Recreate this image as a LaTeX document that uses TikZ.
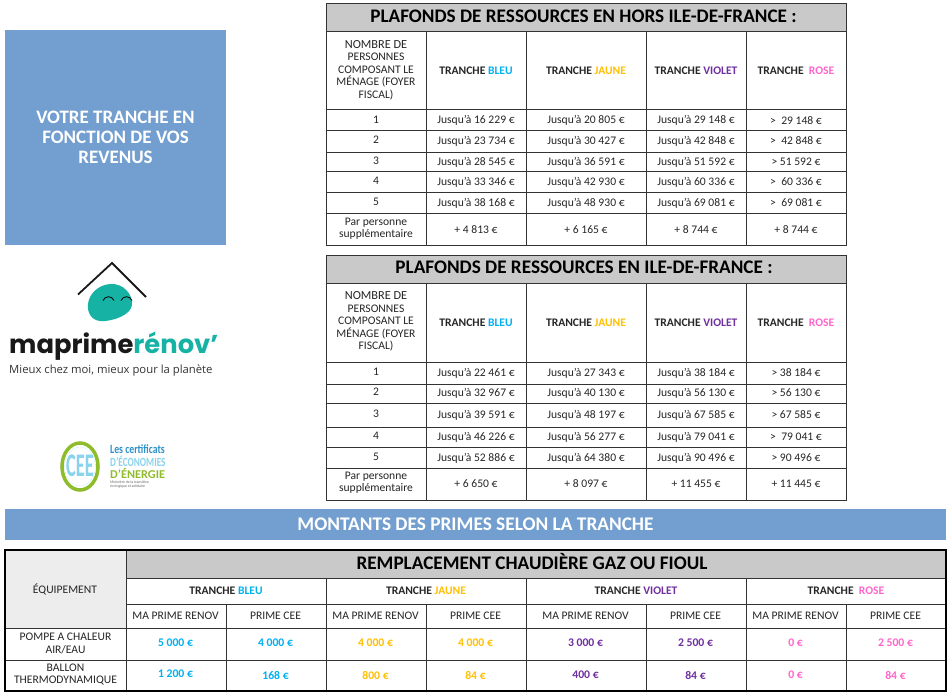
\documentclass[tikz,border=0pt]{standalone}
\usepackage{fontspec}
\setmainfont{Carlito}
\newfontfamily\logofont{Poppins}
\newfontfamily\tagfont{Open Sans}
\usetikzlibrary{calc}
\definecolor{cbl}{HTML}{00B0F0}
\definecolor{cja}{HTML}{FFC000}
\definecolor{cvi}{HTML}{7030A0}
\definecolor{cro}{HTML}{FF66CC}
\definecolor{banner}{HTML}{729FD0}
\definecolor{titlegray}{HTML}{C9C9C9}
\definecolor{equipgray}{HTML}{EDEDED}
\definecolor{gridline}{HTML}{333333}
\definecolor{teal}{HTML}{16B2A4}
\definecolor{ceegreen}{HTML}{8FBC2B}
\definecolor{ceelight}{HTML}{8AD3EC}
\definecolor{ceeblue}{HTML}{2F8FC8}
\newcommand{\hb}{TRANCHE \textcolor{cbl}{BLEU}}
\newcommand{\hj}{TRANCHE \textcolor{cja}{JAUNE}}
\newcommand{\hv}{TRANCHE \textcolor{cvi}{VIOLET}}
\newcommand{\hr}{TRANCHE\ \ \textcolor{cro}{ROSE}}
\newcommand{\nb}{\fontsize{12.3}{12.2}\selectfont NOMBRE DE\\PERSONNES\\COMPOSANT LE\\MÉNAGE (FOYER\\FISCAL)}
\newcommand{\parp}{Par personne\\supplémentaire}
\newcounter{cellno}
\tikzset{
  x=1pt,y=-1pt,
  cellt/.style={inner sep=0pt,align=center,font=\fontsize{11.6}{12.5}\selectfont,text=black!85},
  headt/.style={cellt,font=\fontsize{11.6}{12}\bfseries\selectfont},
  amount/.style={cellt,font=\fontsize{11.7}{12}\bfseries\selectfont},
  titlet/.style={inner sep=0pt,font=\fontsize{19.2}{22}\bfseries\selectfont,text=black},
  grid/.style={draw=gridline,line width=1pt},
  bannert/.style={inner sep=0pt,align=center,text=white,font=\bfseries\selectfont},
}
\newcommand{\cell}[3]{\stepcounter{cellno}\node[cellt] (cell\arabic{cellno}) at (#1,#2) {#3};}
\newcommand{\hcell}[3]{\stepcounter{cellno}\node[headt] (cell\arabic{cellno}) at (#1,#2+1) {#3};}
\newcommand{\acell}[4]{\stepcounter{cellno}\node[amount,text=#4] (cell\arabic{cellno}) at (#1,#2) {#3};}
\newcommand{\rowt}[6]{\cell{376}{#1}{#2}\cell{476}{#1+.9}{#3}\cell{586}{#1+.9}{#4}\cell{696}{#1+.9}{#5}\cell{796}{#1+.9}{#6}}
\newcommand{\headrow}[1]{\cell{376}{#1}{\nb}\hcell{476}{#1}{\hb}\hcell{586}{#1}{\hj}\hcell{696}{#1}{\hv}\hcell{796}{#1}{\hr}}
\begin{document}
\begin{tikzpicture}
\useasboundingbox (0,0) rectangle (952,698);
\fill[white] (0,0) rectangle (952,698);
% blue side box
\node[bannert,fill=banner,minimum width=221pt,minimum height=215pt,font=\fontsize{19}{20}\bfseries\selectfont] (sidebox) at (115.5,137.5) {VOTRE TRANCHE EN\\FONCTION DE VOS\\REVENUS};
% logo maprimerenov
\draw[line width=1.8pt,black!90] (78,294.5) -- (112,263) -- (146,297);
\fill[teal] (110,284) .. controls (124,283) and (133,295) .. (132,305) .. controls (131,315) and (112,322) .. (100,321) .. controls (91,320) and (87,312) .. (88,304) .. controls (89,294) and (98,285) .. (110,284) -- cycle;
\draw[line width=.8pt,black] (103,300.5) .. controls (105,295.5) and (112,295.5) .. (114,300.5);
\draw[line width=.8pt,black] (121,300.5) .. controls (123,295.5) and (130,295.5) .. (132,300.5);
\node[inner sep=0pt,anchor=base west,font=\logofont\fontsize{25.8}{30}\bfseries\selectfont,text=black!90] (wordmark) at (9,353) {maprime\textcolor{teal}{rénov’}};
\node[inner sep=0pt,anchor=base west,font=\tagfont\fontsize{11.3}{12}\selectfont,text=black!80] (tagline) at (9,373) {Mieux chez moi, mieux pour la planète};
% logo CEE
\draw[ceegreen,line width=3.5pt] (80,466.5) ellipse [x radius=18,y radius=23.5];
\draw[ceelight,line width=.4pt,densely dotted] (80,466.5) ellipse [x radius=15.5,y radius=19.5];
\node[inner sep=0pt,text=ceelight,font=\fontsize{33}{33}\bfseries\selectfont,xscale=.56,transform shape] (ceemark) at (80,465.5) {CEE};
\node[inner sep=0pt,anchor=west,text=ceeblue,font=\fontsize{12.5}{12}\bfseries\selectfont,xscale=.78,transform shape] (ceea) at (110,449) {Les certificats};
\node[inner sep=0pt,anchor=west,text=ceelight,font=\fontsize{12.5}{12}\bfseries\selectfont,xscale=.74,transform shape] (ceeb) at (110,461.5) {D’ÉCONOMIES};
\node[inner sep=0pt,anchor=west,text=ceegreen,font=\fontsize{12}{12}\bfseries\selectfont,xscale=1.02,transform shape] (ceec) at (110,473) {D’ÉNERGIE};
\node[inner sep=0pt,anchor=west,text=black!60,font=\fontsize{3.8}{4.5}\selectfont,align=left] (ceed) at (110,484.5) {Ministère de la transition\\écologique et solidaire};
% table 1
\fill[titlegray] (326,4) rectangle (846,32);
\node[titlet] (title1) at (583.5,16.5) {PLAFONDS DE RESSOURCES EN HORS ILE-DE-FRANCE :};
\foreach \y in {32,110,130,152,171,192,213.5}{\draw[grid] (326,\y) -- (846,\y);}
\foreach \x in {426,526,646,746}{\draw[grid] (\x,32) -- (\x,245.5);}
\draw[grid] (326,4) rectangle (846,245.5);
\headrow{70}
\rowt{119.5}{1}{Jusqu'à 16 229 €}{Jusqu'à 20 805 €}{Jusqu'à 29 148 €}{>\ \ 29 148 €}
\rowt{140}{2}{Jusqu'à 23 734 €}{Jusqu'à 30 427 €}{Jusqu'à 42 848 €}{>\ \ 42 848 €}
\rowt{161}{3}{Jusqu'à 28 545 €}{Jusqu'à 36 591 €}{Jusqu'à 51 592 €}{> 51 592 €}
\rowt{181}{4}{Jusqu'à 33 346 €}{Jusqu'à 42 930 €}{Jusqu'à 60 336 €}{>\ \ 60 336 €}
\rowt{202}{5}{Jusqu'à 38 168 €}{Jusqu'à 48 930 €}{Jusqu'à 69 081 €}{>\ \ 69 081 €}
\rowt{228.5}{\parp}{+ 4 813 €}{+ 6 165 €}{+ 8 744 €}{+ 8 744 €}
% table 2
\fill[titlegray] (326,255) rectangle (846,283);
\node[titlet] (title2) at (584,267.5) {PLAFONDS DE RESSOURCES EN ILE-DE-FRANCE :};
\foreach \y in {283,362,384,403,427,447,468}{\draw[grid] (326,\y) -- (846,\y);}
\foreach \x in {426,526,646,746}{\draw[grid] (\x,283) -- (\x,500);}
\draw[grid] (326,255) rectangle (846,500);
\headrow{321.5}
\rowt{372}{1}{Jusqu'à 22 461 €}{Jusqu'à 27 343 €}{Jusqu'à 38 184 €}{> 38 184 €}
\rowt{392}{2}{Jusqu'à 32 967 €}{Jusqu'à 40 130 €}{Jusqu'à 56 130 €}{> 56 130 €}
\rowt{414}{3}{Jusqu'à 39 591 €}{Jusqu'à 48 197 €}{Jusqu'à 67 585 €}{> 67 585 €}
\rowt{436}{4}{Jusqu'à 46 226 €}{Jusqu'à 56 277 €}{Jusqu'à 79 041 €}{>\ \ 79 041 €}
\rowt{457}{5}{Jusqu'à 52 886 €}{Jusqu'à 64 380 €}{Jusqu'à 90 496 €}{> 90 496 €}
\rowt{482.5}{\parp}{+ 6 650 €}{+ 8 097 €}{+ 11 455 €}{+ 11 445 €}
% banner
\node[bannert,fill=banner,minimum width=941pt,minimum height=31pt,font=\fontsize{19.3}{22}\bfseries\selectfont] (banner) at (475.5,524.5) {MONTANTS DES PRIMES SELON LA TRANCHE};
% table 3
\fill[equipgray] (5,550) rectangle (126,628);
\fill[titlegray] (126,550) rectangle (946,578);
\node[titlet] (title3) at (532,561.5) {REMPLACEMENT CHAUDIÈRE GAZ OU FIOUL};
\foreach \y in {628,660}{\draw[grid] (5,\y) -- (946,\y);}
\foreach \y in {578,604}{\draw[grid] (126,\y) -- (946,\y);}
\draw[grid] (126,550) -- (126,691);
\foreach \x in {326,526,746}{\draw[grid] (\x,578) -- (\x,691);}
\foreach \x in {226,426,646,846}{\draw[grid] (\x,604) -- (\x,691);}
\draw[black,line width=1.5pt] (5,550) rectangle (946,691);
\cell{65}{589}{ÉQUIPEMENT}
\hcell{226}{590}{\hb}
\hcell{426}{590}{\hj}
\hcell{636}{590}{\hv}
\hcell{846}{590}{\hr}
\foreach \xc/\lab in {175.5/MA PRIME RENOV,275.5/PRIME CEE,375.5/MA PRIME RENOV,475.5/PRIME CEE,585.5/MA PRIME RENOV,695.5/PRIME CEE,795.5/MA PRIME RENOV,895.5/PRIME CEE}{\cell{\xc}{615.5}{\lab}}
\cell{65.5}{643.5}{POMPE A CHALEUR\\AIR/EAU}
\cell{65.5}{674.5}{BALLON\\THERMODYNAMIQUE}
\acell{175.5}{643}{5 000 €}{cbl}
\acell{275.5}{643}{4 000 €}{cbl}
\acell{375.5}{643}{4 000 €}{cja}
\acell{475.5}{643}{4 000 €}{cja}
\acell{585.5}{643}{3 000 €}{cvi}
\acell{695.5}{643}{2 500 €}{cvi}
\acell{795.5}{643}{0 €}{cro}
\acell{895.5}{643}{2 500 €}{cro}
\acell{175.5}{674}{1 200 €}{cbl}
\acell{275.5}{675}{168 €}{cbl}
\acell{375.5}{675}{800 €}{cja}
\acell{475.5}{675}{84 €}{cja}
\acell{585.5}{675}{400 €}{cvi}
\acell{695.5}{675}{84 €}{cvi}
\acell{795.5}{675}{0 €}{cro}
\acell{895.5}{675}{84 €}{cro}
\end{tikzpicture}
\end{document}
